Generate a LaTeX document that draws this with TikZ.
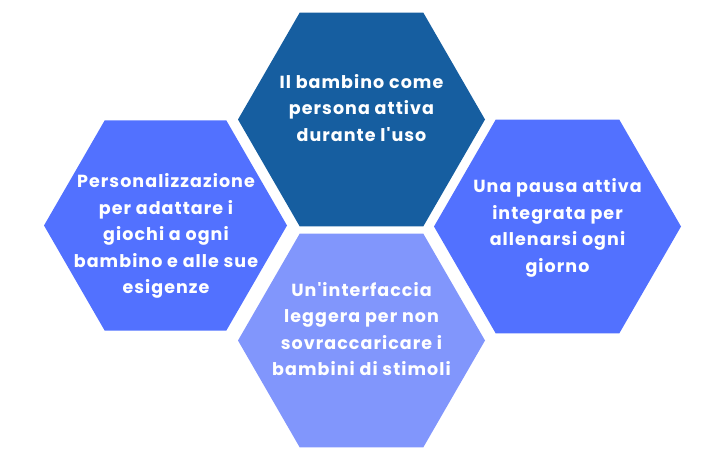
\documentclass[tikz,border=0pt]{standalone}
\usepackage{fontspec}
\setmainfont{Poppins}[LetterSpace=6, Ligatures=TeXOff]
\usetikzlibrary{shapes.geometric}
\definecolor{hexdark}{HTML}{165EA0}
\definecolor{hexblue}{HTML}{5271FF}
\definecolor{hexlight}{HTML}{8196FC}
\tikzset{
  hexa/.style={regular polygon, regular polygon sides=6, minimum size=247pt, inner sep=0pt, outer sep=0pt, draw=none},
  hextext/.style={text=white, align=center, font=\fontsize{17.5}{26.5}\selectfont\bfseries}
}
\begin{document}
\begin{tikzpicture}[x=1pt,y=-1pt]
\useasboundingbox (0,0) rectangle (701,460);
\node[hexa, fill=hexdark] (top) at (361.5,119.5) {};
\node[hexa, fill=hexblue, minimum size=243pt] (left) at (165.5,225.5) {};
\node[hexa, fill=hexblue] (right) at (557.5,226.5) {};
\node[hexa, fill=hexlight] (bottom) at (361.5,340.5) {};
\node[hextext] (ttop) at (361.5,108) {Il bambino come\\persona attiva\\durante l'uso};
\node[hextext] (tleft) at (166,236) {Personalizzazione\\per adattare i\\giochi a ogni\\bambino e alle sue\\esigenze};
\node[hextext] (tright) at (557.5,228) {Una pausa attiva\\integrata per\\allenarsi ogni\\giorno};
\node[hextext] (tbottom) at (361.5,329) {Un'interfaccia\\leggera per non\\sovraccaricare i\\bambini di stimoli};
\end{tikzpicture}
\end{document}
